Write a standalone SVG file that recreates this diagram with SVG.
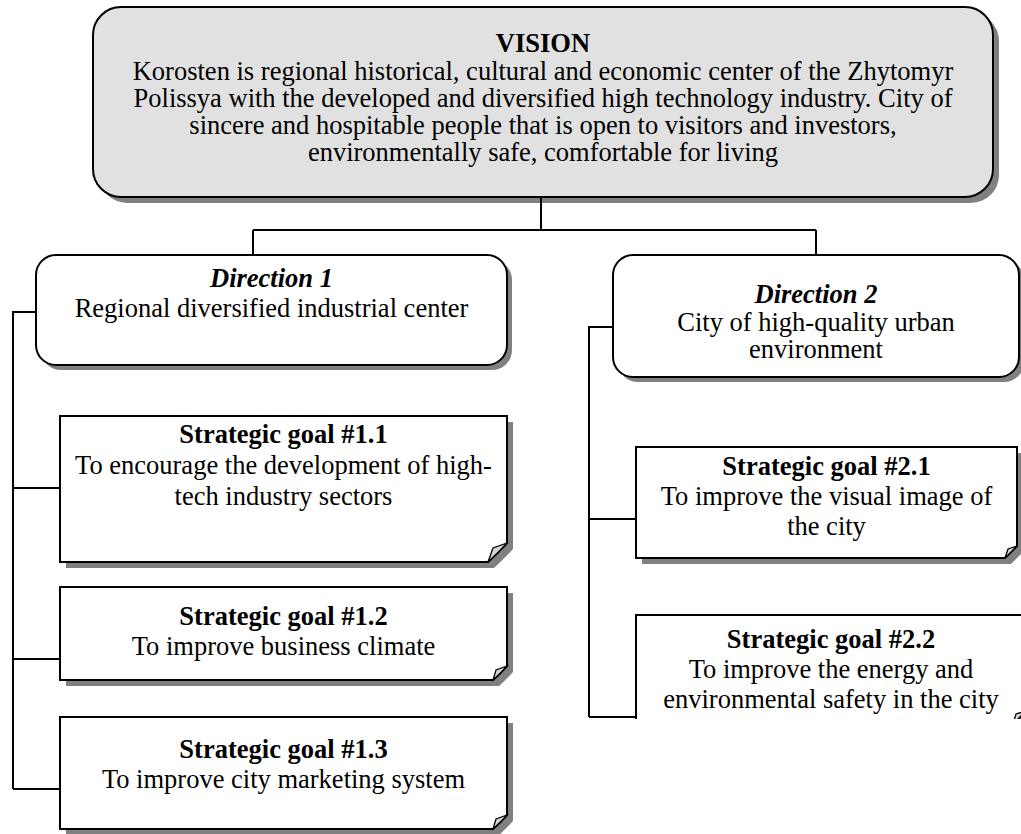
<svg xmlns="http://www.w3.org/2000/svg" width="1021" height="834" viewBox="0 0 1021 834">
<style>
.box{fill:#ffffff;stroke:#000;stroke-width:2}
.vis{fill:#e1e1e1;stroke:#000;stroke-width:2}
.sh{fill:#808080}
.flap{fill:#d4d4d4;stroke:#000;stroke-width:1.3}
.t{font-family:"Liberation Serif","Times New Roman",serif;font-size:26.5px;text-anchor:middle;fill:#000}
.b{font-weight:bold}
.bi{font-weight:bold;font-style:italic}
.conn{stroke:#000;stroke-width:2;fill:none}
</style>
<defs>
<clipPath id="clip22"><rect x="0" y="0" width="1021" height="719"/></clipPath>
</defs>
<rect width="1021" height="834" fill="#ffffff"/>

<g id="vision">
<rect class="sh" x="99" y="13" width="900" height="190" rx="28"/>
<rect class="vis" x="93" y="7" width="900" height="190" rx="28"/>
<text class="t b" x="543" y="52">VISION</text>
<text class="t" x="543" y="80">Korosten is regional historical, cultural and economic center of the Zhytomyr</text>
<text class="t" x="543" y="107">Polissya with the developed and diversified high technology industry. City of</text>
<text class="t" x="543" y="134">sincere and hospitable people that is open to visitors and investors,</text>
<text class="t" x="543" y="161">environmentally safe, comfortable for living</text>
</g>

<g id="direction1">
<rect class="sh" x="41" y="260" width="471" height="110" rx="20"/>
<rect class="box" x="36" y="255" width="471" height="110" rx="20"/>
<text class="t bi" x="271.5" y="287">Direction 1</text>
<text class="t" x="271.5" y="317">Regional diversified industrial center</text>
</g>

<g id="direction2">
<rect class="sh" x="618" y="260" width="406" height="122" rx="20"/>
<rect class="box" x="613" y="255" width="406" height="122" rx="20"/>
<text class="t bi" x="816" y="303">Direction 2</text>
<text class="t" x="816" y="331">City of high-quality urban</text>
<text class="t" x="816" y="358">environment</text>
</g>

<g id="goal11">
<path class="sh" d="M66,422 H513 V549 Q505,558 494,568 H66 Z"/>
<path class="box" d="M60,416 H507 V543 Q499,552 488,562 H60 Z"/>
<path class="flap" d="M507,543 L493,548 L488,562 Q499,552 507,543 Z"/>
<text class="t b" x="283.5" y="443">Strategic goal #1.1</text>
<text class="t" x="283.5" y="474">To encourage the development of high-</text>
<text class="t" x="283.5" y="505">tech industry sectors</text>
</g>

<g id="goal12">
<path class="sh" d="M66,593 H513 V672 Q507,679 499,686 H66 Z"/>
<path class="box" d="M60,587 H507 V666 Q501,673 493,680 H60 Z"/>
<path class="flap" d="M507,666 L496,670 L493,680 Q501,673 507,666 Z"/>
<text class="t b" x="283.5" y="625">Strategic goal #1.2</text>
<text class="t" x="283.5" y="655">To improve business climate</text>
</g>

<g id="goal13">
<path class="sh" d="M66,723 H513 V821 Q507,828 499,835 H66 Z"/>
<path class="box" d="M60,717 H507 V815 Q501,822 493,829 H60 Z"/>
<path class="flap" d="M507,815 L496,819 L493,829 Q501,822 507,815 Z"/>
<text class="t b" x="283.5" y="758">Strategic goal #1.3</text>
<text class="t" x="283.5" y="788">To improve city marketing system</text>
</g>

<g id="goal21">
<path class="sh" d="M642,453 H1023 V552 Q1017,558 1011,564 H642 Z"/>
<path class="box" d="M636,447 H1017 V546 Q1011,552 1005,558 H636 Z"/>
<path class="flap" d="M1017,546 L1008,549 L1005,558 Q1011,552 1017,546 Z"/>
<text class="t b" x="826.5" y="475">Strategic goal #2.1</text>
<text class="t" x="826.5" y="505">To improve the visual image of</text>
<text class="t" x="826.5" y="535">the city</text>
</g>

<g id="goal22" clip-path="url(#clip22)">
<path class="sh" d="M642,621 H1032 V717 Q1026,723 1019,730 H642 Z"/>
<path class="box" d="M636,615 H1026 V711 Q1020,717 1013,724 H636 Z"/>
<path class="flap" d="M1026,711 L1016,714 L1013,724 Q1020,717 1026,711 Z"/>
<text class="t b" x="831" y="648">Strategic goal #2.2</text>
<text class="t" x="831" y="678">To improve the energy and</text>
<text class="t" x="831" y="708">environmental safety in the city</text>
</g>

<g id="connectors">
<path class="conn" d="M541,197 V230"/>
<path class="conn" d="M253,230 H816"/>
<path class="conn" d="M253,230 V255"/>
<path class="conn" d="M816,230 V255"/>
<path class="conn" d="M36,312 H13 V789"/>
<path class="conn" d="M13,488 H60"/>
<path class="conn" d="M13,659 H60"/>
<path class="conn" d="M13,789 H60"/>
<path class="conn" d="M613,327 H589 V717"/>
<path class="conn" d="M589,519 H636"/>
<path class="conn" d="M589,717 H636"/>
</g>
</svg>
